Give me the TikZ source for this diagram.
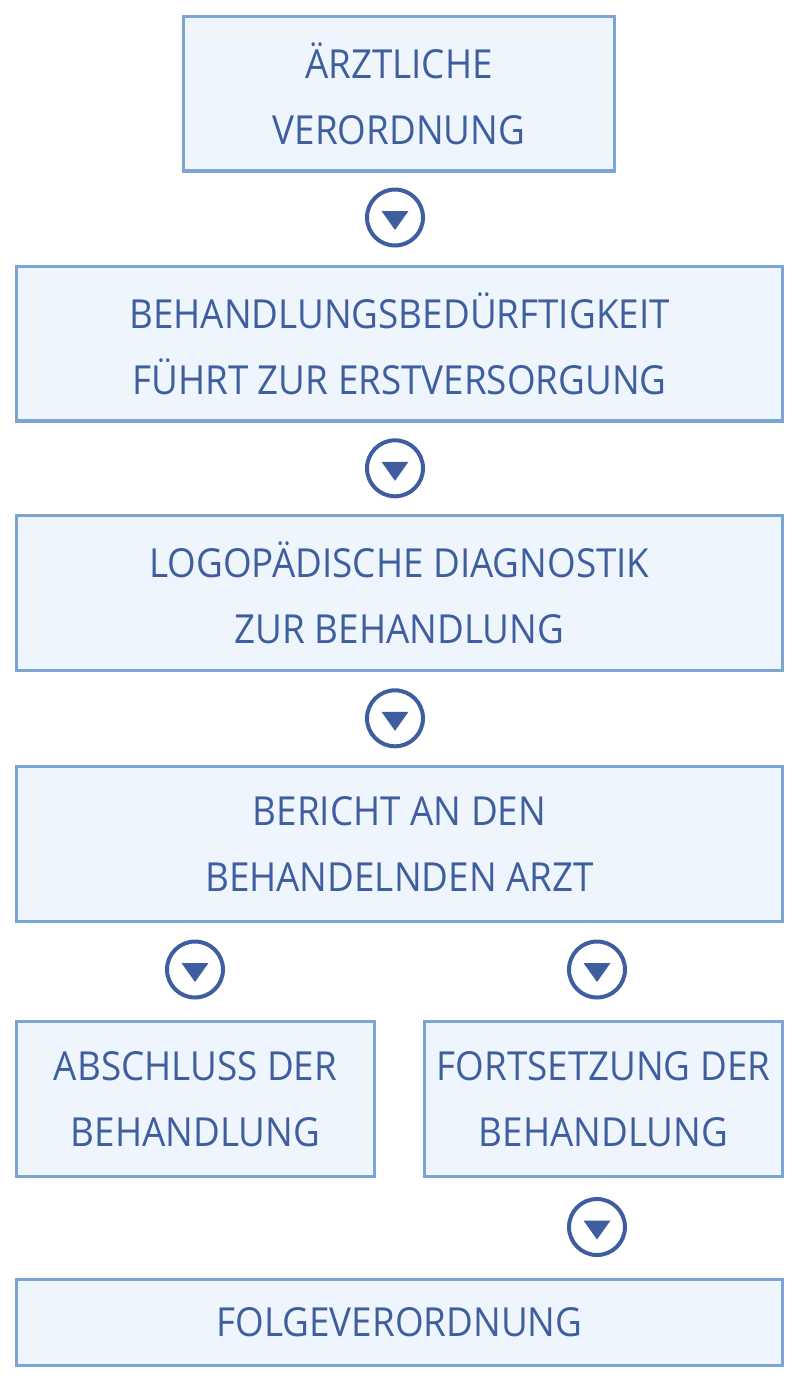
\documentclass[tikz,border=0pt]{standalone}
\usepackage{fontspec}
\setmainfont{Open Sans}[FakeStretch=0.92]
\definecolor{rahmen}{HTML}{7DA5D4}
\definecolor{flaeche}{HTML}{EEF5FD}
\definecolor{dunkel}{HTML}{3F5E9F}
\tikzstyle{box}=[rectangle, draw=rahmen, fill=flaeche, line width=2.6pt, inner sep=0pt, align=center, text=dunkel, font=\fontsize{30}{49.5}\selectfont, minimum height=115.9pt]
\tikzstyle{pfeil}=[circle, draw=dunkel, line width=3pt, minimum size=42pt, inner sep=0pt]

\begin{document}
\begin{tikzpicture}[x=0.75pt, y=-0.75pt]
		   \useasboundingbox (0, 0) rectangle (800, 1385);
		   \begin{scope}
			   \node (0) at (399, 93.5)[box, minimum width=323pt] {ÄRZTLICHE\\VERORDNUNG};
			   \node (1) at (399.5, 343.5)[box, minimum width=574.2pt] {BEHANDLUNGSBEDÜRFTIGKEIT\\FÜHRT ZUR ERSTVERSORGUNG};
			   \node (2) at (399.5, 593)[box, minimum width=574.2pt] {LOGOPÄDISCHE DIAGNOSTIK\\ZUR BEHANDLUNG};
			   \node (3) at (399.5, 844)[box, minimum width=574.2pt] {BERICHT AN DEN\\BEHANDELNDEN ARZT};
			   \node (4) at (195.5, 1099)[box, minimum width=268.2pt] {ABSCHLUSS DER\\BEHANDLUNG};
			   \node (5) at (603.5, 1099)[box, minimum width=268.2pt] {FORTSETZUNG DER\\BEHANDLUNG};
			   \node (6) at (399.5, 1322.5)[box, minimum width=574.2pt, minimum height=64.2pt] {FOLGEVERORDNUNG};
		   \end{scope}
		   \begin{scope}
			   \node (7) at (395, 217.5)[pfeil] {};
			   \node (8) at (395, 468.3)[pfeil] {};
			   \node (9) at (395, 718.3)[pfeil] {};
			   \node (10) at (195, 969.5)[pfeil] {};
			   \node (11) at (597, 969.5)[pfeil] {};
			   \node (12) at (597, 1227)[pfeil] {};
		   \end{scope}
		   \foreach \n in {7,...,12}
			   \fill [dunkel] ([shift={(-13.5,-6.5)}]\n.center) -- ([shift={(13.5,-6.5)}]\n.center) -- ([shift={(0,12.5)}]\n.center) -- cycle;
	   \end{tikzpicture}
\end{document}
